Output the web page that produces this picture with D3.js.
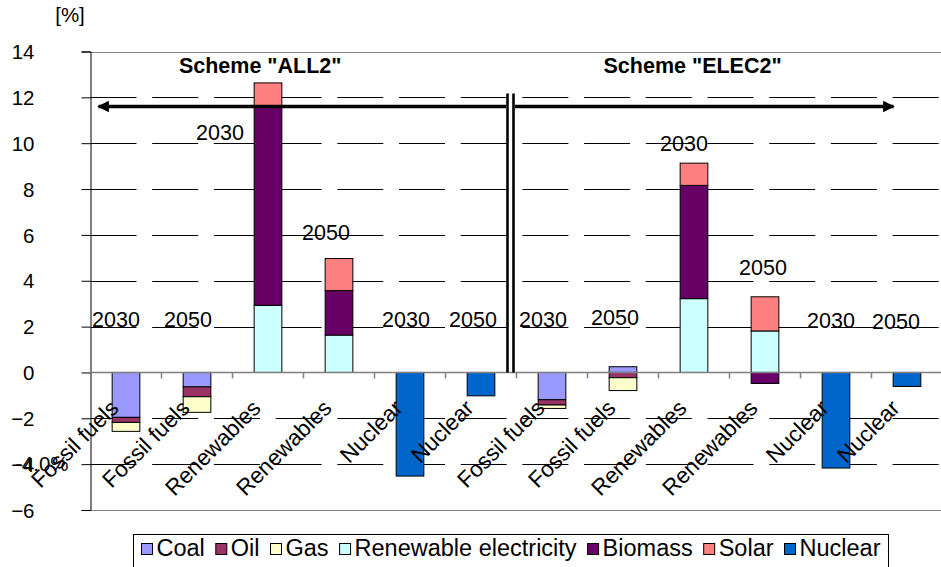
<!DOCTYPE html>
<html><head><meta charset="utf-8">
<script src="https://cdn.jsdelivr.net/npm/d3@7"></script>
<style>
body{margin:0;background:#fff}
svg{display:block}
text{font-family:"Liberation Sans",Arial,Helvetica,sans-serif}
</style>
</head><body>
<svg id="chart" width="941" height="567"></svg>
<script>
// ---------- data ----------
const categories = ["Fossil fuels","Fossil fuels","Renewables","Renewables","Nuclear","Nuclear",
                    "Fossil fuels","Fossil fuels","Renewables","Renewables","Nuclear","Nuclear"];
const years = ["2030","2050","2030","2050","2030","2050","2030","2050","2030","2050","2030","2050"];
const seriesNames = ["Coal","Oil","Gas","Renewable electricity","Biomass","Solar","Nuclear"];
const coal    = [-1.96,-0.63, 0, 0, 0, 0, -1.19, 0.25, 0, 0, 0, 0];
const oil     = [-0.22,-0.43, 0, 0, 0, 0, -0.23,-0.23, 0, 0, 0, 0];
const gas     = [-0.39,-0.68, 0, 0, 0, 0, -0.15,-0.56, 0, 0, 0, 0];
const renElec = [0, 0, 2.93, 1.63, 0, 0, 0, 0, 3.22, 1.81, 0, 0];
const biomass = [0, 0, 8.67, 1.94, 0, 0, 0, 0, 4.94,-0.48, 0, 0];
const solar   = [0, 0, 1.03, 1.40, 0, 0, 0, 0, 0.97, 1.49, 0, 0];
const nuclear = [0, 0, 0, 0,-4.52,-1.02, 0, 0, 0, 0,-4.17,-0.61];
const yTicks = [-6,-4,-2,0,2,4,6,8,10,12,14];
const yearLabelValues = [2, 2, 10.15, 5.77, 2, 2, 2, 2.05, 9.68, 4.27, 1.96, 1.91];
const yearLabelDx = [-10, -9, -48, -13, -4, -8, -9, -8, -10, -2, -5, -11];
const schemes = ['Scheme "ALL2"', 'Scheme "ELEC2"'];
const arrowValue = 11.6;
const colors = ["#9999FF","#993366","#FFFFCC","#CCFFFF","#660066","#FF8080","#0066CC"];

// ---------- layout ----------
const svg = d3.select("#chart");
const plot = {left: 90.5, right: 942.5, top: 51.5, bottom: 510};
const FONT = 20.5;

const x = d3.scaleBand().domain(d3.range(categories.length)).range([plot.left, plot.right]).padding(0);
const y = d3.scaleLinear().domain([-6, 14]).range([plot.bottom, plot.top]);
const step = x.step();
const barW = step * 0.39;

const rows = categories.map((c, i) => ({
  i, Coal: coal[i], Oil: oil[i], Gas: gas[i], "Renewable electricity": renElec[i],
  Biomass: biomass[i], Solar: solar[i], Nuclear: nuclear[i]
}));
const stacked = d3.stack().keys(seriesNames).offset(d3.stackOffsetDiverging)(rows);

// gridlines (dashed)
const g = svg.append("g");
g.selectAll("line.grid").data(yTicks.filter(v => v !== 0 && v !== 14 && v !== -6)).join("line")
  .attr("class","grid")
  .attr("x1", plot.left).attr("x2", plot.right)
  .attr("y1", d => Math.round(y(d)) + 0.5).attr("y2", d => Math.round(y(d)) + 0.5)
  .attr("stroke", "#000").attr("stroke-width", 1)
  .attr("stroke-dasharray", "46,15.7");

// plot border top / bottom
[14, -6].forEach(v => {
  g.append("line").attr("x1", plot.left).attr("x2", plot.right)
   .attr("y1", Math.round(y(v)) + 0.5).attr("y2", Math.round(y(v)) + 0.5)
   .attr("stroke", "#808080").attr("stroke-width", 1);
});

// y axis
const yAxis = d3.axisLeft(y).tickValues(yTicks).tickSize(9).tickPadding(0).tickFormat(d3.format("d"));
const ya = svg.append("g").attr("transform", `translate(${plot.left},0)`).call(yAxis);
ya.select(".domain").attr("stroke", "#000");
ya.selectAll(".tick line").attr("stroke", "#000");
ya.selectAll(".tick text").attr("x", -56).attr("dy", "0.35em")
  .attr("text-anchor", "end").attr("font-size", FONT).attr("fill", "#000")
  .style("font-family", '"Liberation Sans",Arial,sans-serif');

// bars
svg.append("g").selectAll("g").data(stacked).join("g")
  .attr("fill", (d, k) => colors[k])
  .selectAll("rect").data(d => d.filter(p => p[1] - p[0] !== 0)).join("rect")
  .attr("x", p => x(p.data.i) + (step - barW) / 2)
  .attr("width", barW)
  .attr("y", p => y(Math.max(p[0], p[1])))
  .attr("height", p => Math.abs(y(p[0]) - y(p[1])))
  .attr("stroke", "#000").attr("stroke-width", 1);

// zero axis
svg.append("line").attr("x1", plot.left).attr("x2", plot.right)
  .attr("y1", y(0)).attr("y2", y(0)).attr("stroke", "#808080").attr("stroke-width", 1.5);
svg.append("g").selectAll("line").data(d3.range(1, categories.length)).join("line")
  .attr("x1", i => x(i)).attr("x2", i => x(i))
  .attr("y1", y(0)).attr("y2", y(0) + 6).attr("stroke", "#808080").attr("stroke-width", 1.5);

// category labels (rotated)
svg.append("g").selectAll("text").data(categories).join("text")
  .attr("transform", (d, i) => `translate(${x(i) + step / 2 - 6},${y(0) + 37}) rotate(-45)`)
  .attr("text-anchor", "end").attr("font-size", 22.5).attr("fill", "#000")
  .text(d => d);

// ghost percent labels on the left
svg.append("text").attr("x", 15).attr("y", y(-4)).attr("dy", "0.35em")
  .attr("font-size", FONT).text("-4.0%");
svg.append("clipPath").attr("id", "ghostclip").append("rect")
  .attr("x", 36).attr("y", 0).attr("width", 60).attr("height", y(-6) - 7);
svg.append("text").attr("x", 15).attr("y", y(-6)).attr("dy", "0.35em")
  .attr("font-size", FONT).attr("clip-path", "url(#ghostclip)").text("-6.0%");

// year labels
svg.append("g").selectAll("text").data(years).join("text")
  .attr("x", (d, i) => x(i) + step / 2 + yearLabelDx[i])
  .attr("y", (d, i) => y(yearLabelValues[i]))
  .attr("text-anchor", "middle").attr("font-size", 21.5).attr("fill", "#000")
  .text(d => d);

// unit
svg.append("text").attr("x", 70).attr("y", 22).attr("text-anchor", "middle")
  .attr("font-size", FONT).text("[%]");

// scheme separator (double vertical line)
const sepX = x(6) - 6;
[-3, 3].forEach(o => {
  svg.append("line").attr("x1", sepX + o).attr("x2", sepX + o)
    .attr("y1", y(arrowValue) - 13).attr("y2", y(0))
    .attr("stroke", "#000").attr("stroke-width", 2.6);
});

// arrows
const defs = svg.append("defs");
defs.append("marker").attr("id", "ah").attr("viewBox", "0 0 10 10")
  .attr("refX", 9).attr("refY", 5).attr("markerWidth", 4).attr("markerHeight", 3.4)
  .attr("orient", "auto-start-reverse").attr("markerUnits", "strokeWidth")
  .append("path").attr("d", "M0,0 L10,5 L0,10 z").attr("fill", "#000");
const ay = y(arrowValue);
svg.append("line").attr("x1", sepX - 4.5).attr("x2", plot.left + 8)
  .attr("y1", ay).attr("y2", ay).attr("stroke", "#000").attr("stroke-width", 3.4)
  .attr("marker-end", "url(#ah)");
svg.append("line").attr("x1", sepX + 4.5).attr("x2", x(11) + 22)
  .attr("y1", ay).attr("y2", ay).attr("stroke", "#000").attr("stroke-width", 3.4)
  .attr("marker-end", "url(#ah)");

// scheme titles
svg.append("text").attr("x", x(2) + step * 0.39).attr("y", 73).attr("text-anchor", "middle")
  .attr("font-size", 21.5).attr("font-weight", "bold").text(schemes[0]);
svg.append("text").attr("x", x(8) + step * 0.48).attr("y", 73).attr("text-anchor", "middle")
  .attr("font-size", 21.5).attr("font-weight", "bold").text(schemes[1]);

// legend
const leg = svg.append("g");
const lx0 = 133.5, lx1 = 888.5, ly = 534.5;
leg.append("rect").attr("x", lx0).attr("y", ly).attr("width", lx1 - lx0).attr("height", 40)
  .attr("fill", "#fff").attr("stroke", "#000").attr("stroke-width", 1);
const items = leg.selectAll("g").data(seriesNames).join("g");
items.append("rect").attr("width", 11).attr("height", 11)
  .attr("fill", (d, k) => colors[k]).attr("stroke", "#000").attr("stroke-width", 1);
items.append("text").attr("x", 15).attr("y", 12).attr("font-size", 23.5)
  .attr("transform", "scale(1,1)").text(d => d);
const widths = items.nodes().map(n => 15 + n.querySelector("text").getComputedTextLength());
const sumW = d3.sum(widths);
const gap = (lx1 - lx0 - 16 - sumW) / (seriesNames.length - 1);
let cx = lx0 + 8;
items.attr("transform", (d, k) => { const t = `translate(${cx},${ly + 9})`; cx += widths[k] + gap; return t; });
</script>
</body></html>
